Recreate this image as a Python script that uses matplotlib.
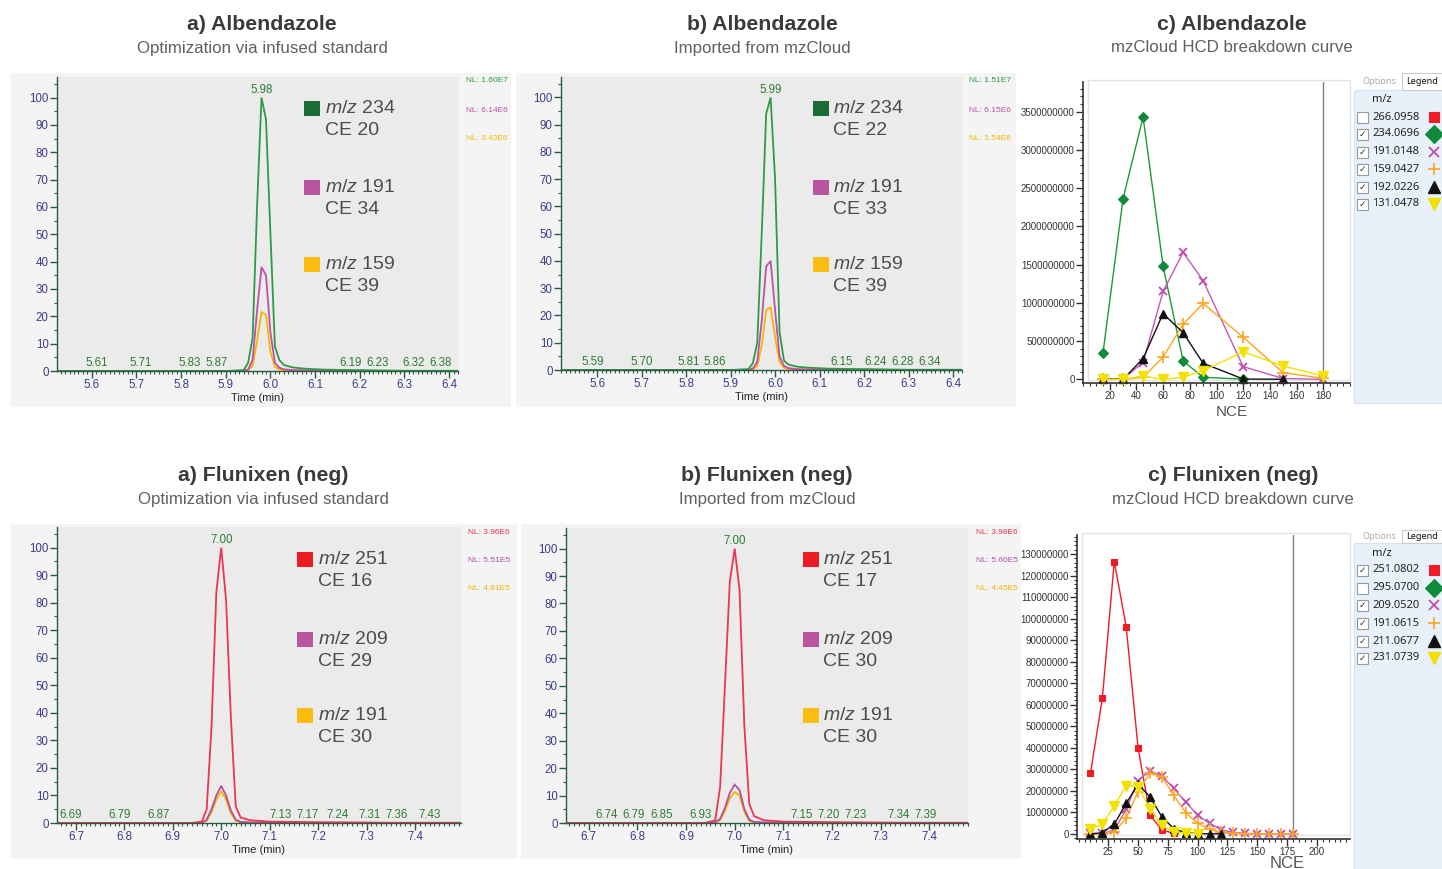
import matplotlib
matplotlib.use('Agg')
import matplotlib.pyplot as plt
from matplotlib.patches import Rectangle
from matplotlib.lines import Line2D
from matplotlib.ticker import MultipleLocator, FuncFormatter

plt.rcParams['font.family'] = ['Liberation Sans', 'DejaVu Sans']
plt.rcParams['mathtext.fontset'] = 'custom'
plt.rcParams['mathtext.it'] = 'Liberation Sans:italic'
plt.rcParams['mathtext.rm'] = 'Liberation Sans'

# ---------------- DATA ----------------
# Albendazole chromatograms (relative abundance, %)
alb_a_time = [5.52, 5.90, 5.94, 5.95, 5.96, 5.97, 5.98, 5.99, 6.00, 6.01, 6.02, 6.03, 6.05, 6.08, 6.12, 6.20, 6.30, 6.42]
alb_a_mz234 = [0, 0, 0.3, 3, 12, 60, 100, 92, 50, 9, 4, 2.2, 1.3, 0.8, 0.5, 0.3, 0.1, 0.1]
alb_a_mz191 = [0, 0, 0.1, 0.5, 4, 22, 38, 35, 14, 3, 1.2, 0.6, 0.3, 0.2, 0.1, 0.1, 0, 0]
alb_a_mz159 = [0, 0, 0, 0.3, 2, 11, 21.5, 20.5, 7, 1.5, 0.6, 0.3, 0.2, 0.1, 0.1, 0, 0, 0]
alb_a_peak = 5.98
alb_a_rt_labels = [5.61, 5.71, 5.83, 5.87, 6.19, 6.23, 6.32, 6.38]
alb_a_nl = ['NL: 1.60E7', 'NL: 6.14E6', 'NL: 3.43E6']
alb_a_legend = [('234', '20'), ('191', '34'), ('159', '39')]

alb_b_time = [5.52, 5.90, 5.94, 5.95, 5.96, 5.97, 5.98, 5.99, 6.00, 6.01, 6.02, 6.03, 6.05, 6.08, 6.12, 6.20, 6.30, 6.42]
alb_b_mz234 = [0, 0, 0.3, 2.5, 10, 50, 94, 100, 70, 14, 3.5, 2, 1.2, 0.8, 0.5, 0.3, 0.1, 0.1]
alb_b_mz191 = [0, 0, 0.1, 0.5, 3, 18, 38, 40, 22, 5, 1.5, 0.7, 0.3, 0.2, 0.1, 0.1, 0, 0]
alb_b_mz159 = [0, 0, 0, 0.3, 1.5, 9, 22, 23, 12, 3, 0.8, 0.4, 0.2, 0.1, 0.1, 0, 0, 0]
alb_b_peak = 5.99
alb_b_rt_labels = [5.59, 5.70, 5.81, 5.86, 6.15, 6.24, 6.28, 6.34]
alb_b_nl = ['NL: 1.51E7', 'NL: 6.15E6', 'NL: 3.54E6']
alb_b_legend = [('234', '22'), ('191', '33'), ('159', '39')]

# Flunixen (neg) chromatograms
flu_a_time = [6.66, 6.94, 6.96, 6.97, 6.98, 6.99, 7.00, 7.01, 7.02, 7.03, 7.04, 7.06, 7.10, 7.20, 7.35, 7.50]
flu_a_mz251 = [0, 0, 0.5, 5, 35, 84, 100, 81, 38, 6, 2, 1, 0.5, 0.3, 0.1, 0.1]
flu_a_mz209 = [0, 0, 0.2, 1.2, 5, 10, 13.5, 10, 4.5, 1.2, 0.4, 0.2, 0.1, 0, 0, 0]
flu_a_mz191 = [0, 0, 0.1, 0.8, 4, 8.5, 11.5, 8.5, 3.5, 0.8, 0.2, 0.1, 0, 0, 0, 0]
flu_a_peak = 7.00
flu_a_rt_labels = [6.69, 6.79, 6.87, 7.13, 7.17, 7.24, 7.31, 7.36, 7.43]
flu_a_nl = ['NL: 3.96E6', 'NL: 5.51E5', 'NL: 4.61E5']
flu_a_legend = [('251', '16'), ('209', '29'), ('191', '30')]

flu_b_time = [6.65, 6.94, 6.96, 6.97, 6.98, 6.99, 7.00, 7.01, 7.02, 7.03, 7.04, 7.06, 7.10, 7.20, 7.35, 7.49]
flu_b_mz251 = [0, 0, 1, 13, 50, 88, 100, 85, 35, 7, 2.5, 1, 0.5, 0.3, 0.1, 0.1]
flu_b_mz209 = [0, 0, 0.2, 1.5, 5.5, 11, 14, 12, 5, 1.2, 0.4, 0.2, 0.1, 0, 0, 0]
flu_b_mz191 = [0, 0, 0.1, 1, 4.5, 9, 11.3, 10, 4, 0.8, 0.2, 0.1, 0, 0, 0, 0]
flu_b_peak = 7.00
flu_b_rt_labels = [6.74, 6.79, 6.85, 6.93, 7.15, 7.20, 7.23, 7.34, 7.39]
flu_b_nl = ['NL: 3.98E6', 'NL: 5.60E5', 'NL: 4.45E5']
flu_b_legend = [('251', '17'), ('209', '30'), ('191', '30')]

# mzCloud HCD breakdown curves
alb_nce = [15, 30, 45, 60, 75, 90, 120, 150, 180]
alb_c_234 = [3.49e8, 2.36e9, 3.43e9, 1.48e9, 2.4e8, 2.6e7, 2e6]
alb_c_191 = [0, 5e6, 2.2e8, 1.15e9, 1.66e9, 1.29e9, 1.66e8, 1e7, 0]
alb_c_159 = [0, 0, 2.6e7, 2.9e8, 7.2e8, 9.94e8, 5.5e8, 8.7e7, 1.3e7]
alb_c_192 = [0, 2e6, 2.7e8, 8.6e8, 6.1e8, 2.1e8, 4e6, 1e6]
alb_c_131 = [0, 0, 4.4e7, 0, 2.6e7, 1.13e8, 3.6e8, 1.74e8, 4.4e7]
alb_c_mz = ['266.0958', '234.0696', '191.0148', '159.0427', '192.0226', '131.0478']
alb_c_checked = [False, True, True, True, True, True]

flu_nce = [10, 20, 30, 40, 50, 60, 70, 80, 90, 100, 110, 120, 130, 140, 150, 160, 170, 180]
flu_c_251 = [2.82e7, 6.3e7, 1.265e8, 9.63e7, 4.0e7, 8.8e6, 1.9e6, 3e5]
flu_c_209 = [3e5, 3e5, 1.9e6, 1.15e7, 2.48e7, 2.94e7, 2.69e7, 2.12e7, 1.49e7, 8.7e6, 5e6, 1.9e6, 8e5, 3e5, 2e5, 1e5, 1e5, 1e5]
flu_c_191 = [0, 0, 1e6, 7.3e6, 1.97e7, 2.82e7, 2.66e7, 1.8e7, 9.9e6, 5e6, 2.2e6, 8e5, 3e5, 1e5, 1e5, 0, 0, 0]
flu_c_211 = [0, 6e5, 4.6e6, 1.42e7, 2.32e7, 1.73e7, 8e6, 2.5e6, 6e5, 2e5, 1e5, 1e5]
flu_c_231 = [2.2e6, 4.6e6, 1.3e7, 2.24e7, 2.2e7, 1.18e7, 4e6, 1e6, 3e5, 1e5]
flu_c_mz = ['251.0802', '295.0700', '209.0520', '191.0615', '211.0677', '231.0739']
flu_c_checked = [True, False, True, True, True, True]

titles = ['a) Albendazole', 'b) Albendazole', 'c) Albendazole',
          'a) Flunixen (neg)', 'b) Flunixen (neg)', 'c) Flunixen (neg)']
subtitles = ['Optimization via infused standard', 'Imported from mzCloud', 'mzCloud HCD breakdown curve'] * 2

# ---------------- FIGURE ----------------
W, H = 1442, 869
fig = plt.figure(figsize=(W / 100, H / 100), dpi=100)
fig.patch.set_facecolor('white')


def add_ax(x0, y0, x1, y1):
    return fig.add_axes([x0 / W, 1 - y1 / H, (x1 - x0) / W, (y1 - y0) / H])


def frect(x0, y0, x1, y1, **kw):
    r = Rectangle((x0 / W, 1 - y1 / H), (x1 - x0) / W, (y1 - y0) / H,
                  transform=fig.transFigure, **kw)
    fig.add_artist(r)
    return r


def ftext(x, y, s, **kw):
    return fig.text(x / W, 1 - y / H, s, **kw)


def fmarker(x, y, **kw):
    ln = Line2D([x / W], [1 - y / H], transform=fig.transFigure, **kw)
    fig.add_artist(ln)
    return ln


# titles
title_pos = [(262, 25), (762, 25), (1232, 25), (263, 476), (767, 476), (1233, 476)]
for (x, y), t, s in zip(title_pos, titles, subtitles):
    ftext(x, y, t, ha='center', va='center', fontsize=15.3, color='#3a3a3a', fontweight='bold')
    ftext(x, y + 23, s, ha='center', va='center', fontsize=12.2, color='#606060')

SPINE = '#2d5a44'
TICKLAB = '#3b3b8c'
RTGREEN = '#2e7d32'
NLX_SIZE = 6


def spread(vals, sep):
    """Push retention-time labels apart so that they do not overlap."""
    pos = list(vals)
    for _ in range(30):
        moved = False
        for i in range(len(pos) - 1):
            gap = pos[i + 1] - pos[i]
            if gap < sep - 1e-9:
                d = (sep - gap) / 2
                pos[i] -= d
                pos[i + 1] += d
                moved = True
        if not moved:
            break
    return pos


def chromatogram(outer, axbox, xlim, time, traces, colors, peak, rt_labels, sep,
                 nl_texts, nl_x, nl_ys, leg_sq_x, leg_txt_x, leg_y0s, leg_entries, sq_colors):
    frect(*outer, facecolor='#f4f4f4', edgecolor='none', zorder=-2)
    ax = add_ax(*axbox)
    ax.set_facecolor('#ebebeb')
    for vals, c in zip(traces, colors):
        ax.plot(time, vals, color=c, lw=1.3, solid_joinstyle='miter')
    ax.set_xlim(*xlim)
    ax.set_ylim(0, 107.5)
    for sp in ['top', 'right']:
        ax.spines[sp].set_visible(False)
    for sp in ['left', 'bottom']:
        ax.spines[sp].set_color(SPINE)
        ax.spines[sp].set_linewidth(1.0)
    ax.yaxis.set_minor_locator(MultipleLocator(5))
    ax.set_yticks(range(0, 101, 10))
    ax.xaxis.set_major_locator(MultipleLocator(0.1))
    ax.xaxis.set_minor_locator(MultipleLocator(0.01))
    ax.xaxis.set_major_formatter(FuncFormatter(lambda v, p: f'{v:.1f}'))
    ax.tick_params(which='major', direction='out', length=5, width=1, color=SPINE,
                   labelcolor=TICKLAB, labelsize=8.3, pad=1)
    ax.tick_params(which='minor', direction='out', length=2.5, width=0.8, color=SPINE)
    ax.set_xlabel('Time (min)', fontsize=8, color='#222222', labelpad=1)
    ax.text(peak, 100.6, f'{peak:.2f}', ha='center', va='bottom', color=RTGREEN, fontsize=8.3)
    for rt, xp in zip(rt_labels, spread(rt_labels, sep)):
        ax.text(xp, 0.9, f'{rt:.2f}', ha='center', va='bottom', color=RTGREEN, fontsize=8.3)
    for t, c, y in zip(nl_texts, colors[::-1], nl_ys):
        ftext(nl_x, y, t, ha='center', va='center', fontsize=NLX_SIZE, color=c)
    for (mz, ce), y0, sc in zip(leg_entries, leg_y0s, sq_colors):
        frect(leg_sq_x, y0, leg_sq_x + 16, y0 + 15, facecolor=sc, edgecolor='none', zorder=5)
        ftext(leg_txt_x, y0 + 7.5, r'$\mathit{m/z}$ ' + mz, ha='left', va='center',
              fontsize=14, color='#4d4d4d')
        ftext(leg_txt_x, y0 + 29.5, 'CE ' + ce, ha='left', va='center',
              fontsize=14, color='#4d4d4d')
    return ax


alb_line_colors = ['#f7b500', '#c04fa8', '#2e9a45']   # 159, 191, 234 (drawn bottom -> top)
alb_sq_colors = ['#1b6b36', '#b9559f', '#fbbc12']
flu_line_colors = ['#f4b400', '#b44fa0', '#ea3553']
flu_sq_colors = ['#ec1c24', '#b9559f', '#fbbc12']

chromatogram((11, 73, 511, 407), (57, 77, 458, 371), (5.522, 6.42), alb_a_time,
             [alb_a_mz159, alb_a_mz191, alb_a_mz234], alb_line_colors, alb_a_peak,
             alb_a_rt_labels, 0.06, alb_a_nl, 487, [81, 110, 138],
             304, 325, [101, 180, 257], alb_a_legend, alb_sq_colors)
chromatogram((516, 73, 1016, 407), (561, 77, 962, 370), (5.519, 6.42), alb_b_time,
             [alb_b_mz159, alb_b_mz191, alb_b_mz234], alb_line_colors, alb_b_peak,
             alb_b_rt_labels, 0.06, alb_b_nl, 990, [81, 110, 138],
             813, 833, [101, 180, 257], alb_b_legend, alb_sq_colors)
chromatogram((11, 524, 517, 859), (57, 527, 461, 823), (6.661, 7.495), flu_a_time,
             [flu_a_mz191, flu_a_mz209, flu_a_mz251], flu_line_colors, flu_a_peak,
             flu_a_rt_labels, 0.056, flu_a_nl, 489, [532, 560, 589],
             297, 318, [552, 632, 708], flu_a_legend, flu_sq_colors)
chromatogram((521, 524, 1021, 859), (566, 528, 968, 823), (6.653, 7.48), flu_b_time,
             [flu_b_mz191, flu_b_mz209, flu_b_mz251], flu_line_colors, flu_b_peak,
             flu_b_rt_labels, 0.056, flu_b_nl, 997, [532, 561, 589],
             803, 823, [552, 632, 708], flu_b_legend, flu_sq_colors)

# ---------------- breakdown curves ----------------
STYLE = {
    'red': dict(color='#ee1c25', marker='s', ms=5, mec='#ee1c25', mfc='#ee1c25', mew=0.8),
    'green': dict(color='#1e9a3c', marker='D', ms=5, mec='#0e8a3a', mfc='#0e8a3a', mew=0.8),
    'mag': dict(color='#c25ab8', marker='x', ms=6, mec='#c04eb0', mew=1.3),
    'orange': dict(color='#ffa41c', marker='+', ms=8, mec='#ffa41c', mew=1.2),
    'black': dict(color='#111111', marker='^', ms=5.5, mec='#111111', mfc='#111111'),
    'yellow': dict(color='#f2e200', marker='v', ms=6.5, mec='#f2e200', mfc='#f2e200'),
}
LEG_ORDER = ['red', 'green', 'mag', 'orange', 'black', 'yellow']
LEG_MS = {'red': 7.5, 'green': 9.5, 'mag': 7, 'orange': 9, 'black': 8, 'yellow': 8.5}


def breakdown(axbox, frame, xlim, ylim, xticks, ymajor, yminor, nce, series,
              legend_top, legend_bottom, tab_y, mz_y, row_ys, mz_labels, checked, nce_xy, nce_size):
    frect(*frame, facecolor='white', edgecolor='#e2e2e2', lw=1, zorder=-1)
    ax = add_ax(*axbox)
    ax.set_facecolor('none')
    for key, vals in series:
        st = STYLE[key]
        ax.plot(nce[:len(vals)], vals, lw=1.0, clip_on=False, **st)
    ax.axvline(180, color='#808080', lw=1.0, zorder=0)
    ax.set_xlim(*xlim)
    ax.set_ylim(*ylim)
    for sp in ['top', 'right']:
        ax.spines[sp].set_visible(False)
    for sp in ['left', 'bottom']:
        ax.spines[sp].set_color('#333333')
        ax.spines[sp].set_linewidth(1.2)
    ax.set_xticks(xticks)
    ax.xaxis.set_minor_locator(MultipleLocator(5))
    ax.yaxis.set_major_locator(MultipleLocator(ymajor))
    ax.yaxis.set_minor_locator(MultipleLocator(yminor))
    ax.yaxis.set_major_formatter(FuncFormatter(lambda v, p: f'{int(round(v))}'))
    ax.tick_params(which='major', direction='out', length=5, width=1, color='#333333',
                   labelsize=7, labelcolor='#333333', pad=1)
    ax.tick_params(which='minor', direction='out', length=2.5, width=0.8, color='#333333')
    ftext(nce_xy[0], nce_xy[1], 'NCE', ha='center', va='center', fontsize=nce_size, color='#555555')
    # legend panel
    frect(1354, legend_top, 1442, legend_bottom,
          facecolor='#e8f1fa', edgecolor='#d5e2ef', lw=0.8, zorder=-1)
    frect(1402, tab_y, 1442, legend_top, facecolor='white', edgecolor='#cccccc', lw=0.8, zorder=-1)
    ftext(1379, (tab_y + legend_top) / 2, 'Options', ha='center', va='center',
          fontsize=6.5, color='#aaaaaa', family=['Noto Sans', 'DejaVu Sans'])
    ftext(1422, (tab_y + legend_top) / 2, 'Legend', ha='center', va='center',
          fontsize=6.5, color='#111111', fontweight='bold', family=['Noto Sans', 'DejaVu Sans'])
    ftext(1372, mz_y, 'm/z', ha='left', va='center', fontsize=8, color='#222222',
          family=['Noto Sans', 'DejaVu Sans'])
    for y, lab, chk, key in zip(row_ys, mz_labels, checked, LEG_ORDER):
        frect(1357, y - 5.5, 1368, y + 5.5, facecolor='white', edgecolor='#9a9a9a', lw=0.8, zorder=6)
        if chk:
            ftext(1362.5, y, '\u2713', ha='center', va='center', fontsize=6.5,
                  color='#333333', family=['DejaVu Sans'], zorder=7)
        ftext(1372, y, lab, ha='left', va='center', fontsize=8, color='#222222',
              family=['Noto Sans', 'DejaVu Sans'])
        st = dict(STYLE[key])
        st['ms'] = LEG_MS[key]
        st.pop('color')
        fmarker(1434, y, ls='none', zorder=7, **st)
    return ax


breakdown((1083, 82, 1350, 383), (1088, 80, 1350, 380), (0, 200), (-4.8e7, 3.888e9),
          list(range(20, 181, 20)), 5e8, 1e8, alb_nce,
          [('green', alb_c_234), ('mag', alb_c_191), ('orange', alb_c_159),
           ('black', alb_c_192), ('yellow', alb_c_131)],
          90, 403, 73, 100, [117, 134, 152, 169, 187, 204], alb_c_mz, alb_c_checked,
          (1232, 412), 11)

breakdown((1077, 535, 1350, 839), (1082, 533, 1350, 835), (-1.3, 228), (-2.3e6, 1.388e8),
          list(range(25, 201, 25)), 1e7, 2e6, flu_nce,
          [('red', flu_c_251), ('mag', flu_c_209), ('orange', flu_c_191),
           ('black', flu_c_211), ('yellow', flu_c_231)],
          543, 869, 530, 553, [570, 588, 605, 623, 641, 658], flu_c_mz, flu_c_checked,
          (1287, 864), 12)

fig.savefig('out.png', dpi=100)
